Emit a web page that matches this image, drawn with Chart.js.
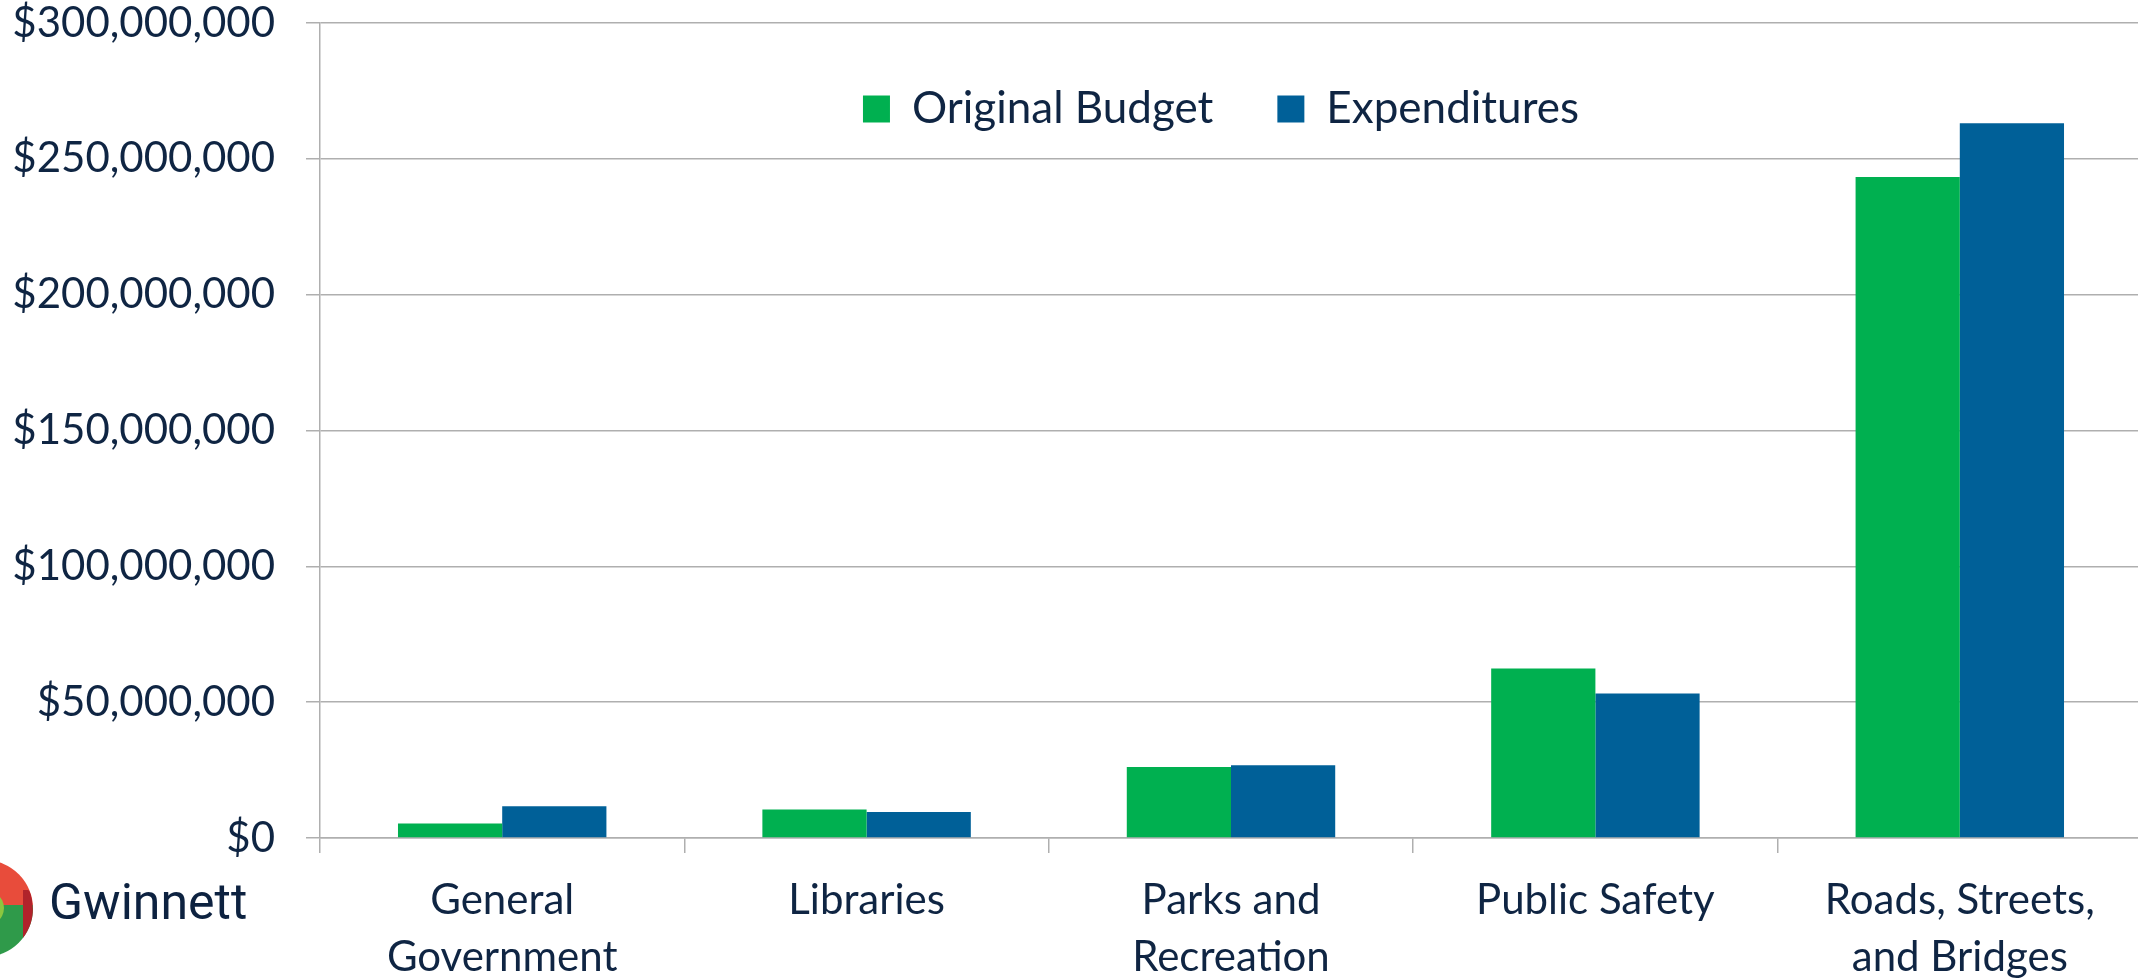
<!DOCTYPE html>
<html>
<head>
<meta charset="utf-8">
<script src="https://cdn.jsdelivr.net/npm/chart.js@4.4.1/dist/chart.umd.min.js"></script>
<style>
  html, body { margin: 0; padding: 0; background: #ffffff; overflow: hidden; }
  #wrap { position: relative; width: 2142px; height: 980px; }
  #logo-circle { position: absolute; left: -64px; top: 860px; width: 97px; height: 97px; border-radius: 50%;
    background: linear-gradient(to bottom, #e84c3b 0%, #e84c3b 46%, #2f9a4a 46%, #2f9a4a 100%); overflow: hidden; }
  #logo-circle .inner { position: absolute; left: 20px; top: 28px; width: 48px; height: 40px; border-radius: 50%; background: #8cc63f; }
  #logo-circle .edge { position: absolute; right: 0; top: 30px; width: 10px; height: 50px; background: #b1232b; border-radius: 0 50% 50% 0; }
  #logo-text { position: absolute; left: 49px; top: 872px; font-family: Roboto, sans-serif; font-weight: 400; font-size: 50px; color: #0d2240; line-height: 60px; }
</style>
</head>
<body>
<div id="wrap">
  <canvas id="c"></canvas>
  <div id="logo-circle"><div class="inner"></div><div class="edge"></div></div>
  <div id="logo-text">Gwinnett</div>
</div>
<script>
const categories = [
  ['General', 'Government'],
  ['Libraries'],
  ['Parks and', 'Recreation'],
  ['Public Safety'],
  ['Roads, Streets,', 'and Bridges']
];
const originalBudget = [5300000, 10500000, 26100000, 62400000, 243300000];
const expenditures = [11700000, 9600000, 26800000, 53200000, 263100000];
const seriesNames = ['Original Budget', 'Expenditures'];
const yTickMin = 0;
const yTickMax = 300000000;
const yTickStep = 50000000;

const textColor = '#0f2543';
const gridColor = '#afafaf';

const horizontalLegendInArea = {
  id: 'horizontalLegendInArea',
  afterInit(chart) {
    if (chart.legend) { chart.legend.isHorizontal = () => true; }
  },
  afterLayout(chart) {
    const lg = chart.legend;
    if (lg) {
      lg.left = chart.chartArea.left - 20;
      lg.right = chart.chartArea.right;
    }
  }
};

new Chart(document.getElementById('c'), {
  type: 'bar',
  data: {
    labels: categories,
    datasets: [
      { label: seriesNames[0], data: originalBudget, backgroundColor: '#00b050', borderWidth: 0,
        categoryPercentage: 0.572, barPercentage: 1.0 },
      { label: seriesNames[1], data: expenditures, backgroundColor: '#006098', borderWidth: 0,
        categoryPercentage: 0.572, barPercentage: 1.0 }
    ]
  },
  plugins: [horizontalLegendInArea],
  options: {
    responsive: true,
    maintainAspectRatio: false,
    animation: false,
    layout: { padding: { left: 0, right: 0, top: 0, bottom: 0 } },
    plugins: {
      tooltip: { enabled: false },
      legend: {
        position: 'chartArea',
        align: 'center',
        labels: {
          boxWidth: 27,
          boxHeight: 27,
          padding: 64,
          color: textColor,
          font: { family: 'Lato', size: 44 }
        }
      }
    },
    scales: {
      x: {
        offset: true,
        grid: { display: true, drawOnChartArea: false, drawTicks: true, tickLength: 15, color: gridColor, lineWidth: 1.5, offset: true },
        border: { display: true, color: gridColor, width: 1.5 },
        ticks: { color: textColor, padding: 18, maxRotation: 0, autoSkip: false,
          font: { family: 'Lato', size: 42, lineHeight: 1.38 } },
        afterFit: (scale) => { scale.height = 142; }
      },
      y: {
        min: yTickMin,
        max: yTickMax,
        grid: { color: gridColor, lineWidth: 1.5, tickLength: 14, drawTicks: true },
        border: { display: true, color: gridColor, width: 1.5 },
        ticks: {
          stepSize: yTickStep,
          color: textColor,
          padding: 31,
          font: { family: 'Lato', size: 42, lineHeight: 1.1 },
          callback: (v) => '$' + Number(v).toLocaleString('en-US')
        },
        afterFit: (scale) => { scale.width = 320; scale.paddingTop = 23; scale.paddingBottom = 0; }
      }
    }
  }
});
</script>
</body>
</html>
